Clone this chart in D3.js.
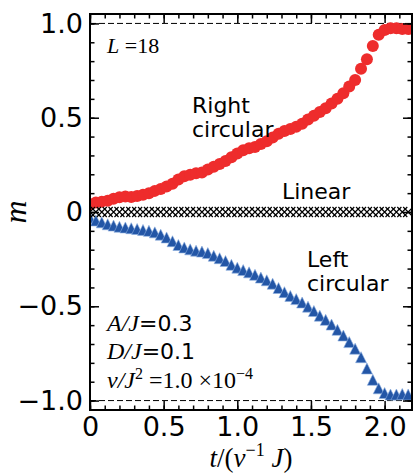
<!DOCTYPE html>
<html>
<head>
<meta charset="utf-8">
<script src="https://cdn.jsdelivr.net/npm/d3@7"></script>
<style>
body { margin: 0; background: #fff; }
.axis path.domain { display: none; }
.axis line { stroke: #000; stroke-width: 1.5; }
.axis text { font-family: "DejaVu Sans"; font-size: 27px; fill: #000; }
.math { font-family: "Liberation Serif"; fill: #000; }
.lbl { font-family: "DejaVu Sans"; font-size: 22px; fill: #000; }
</style>
</head>
<body>
<svg width="414" height="474"></svg>
<script>
// sampled times t/(v^-1 J)
var times = [0, 0.04, 0.08, 0.12, 0.16, 0.20, 0.24, 0.28, 0.32, 0.36, 0.40, 0.44, 0.48, 0.52,
    0.56, 0.60, 0.64, 0.68, 0.72, 0.76, 0.80, 0.84, 0.88, 0.92, 0.96, 1.00, 1.04, 1.08, 1.12,
    1.16, 1.20, 1.24, 1.28, 1.32, 1.36, 1.40, 1.44, 1.48, 1.52, 1.56, 1.60, 1.64, 1.68, 1.72,
    1.76, 1.80, 1.84, 1.88, 1.92, 1.96, 2.00, 2.04, 2.08, 2.12, 2.16];

var rightCircular = [0.04, 0.05, 0.055, 0.06, 0.07, 0.078, 0.082, 0.08, 0.085, 0.092, 0.10, 0.112,
    0.122, 0.135, 0.15, 0.172, 0.19, 0.198, 0.205, 0.21, 0.225, 0.24, 0.255, 0.27, 0.29, 0.31,
    0.328, 0.338, 0.345, 0.36, 0.375, 0.395, 0.415, 0.43, 0.44, 0.452, 0.468, 0.49, 0.51, 0.53,
    0.55, 0.575, 0.60, 0.63, 0.665, 0.70, 0.76, 0.81, 0.88, 0.94, 0.965, 0.975, 0.975, 0.97, 0.97];

var leftCircular = [-0.03, -0.045, -0.055, -0.065, -0.072, -0.078, -0.082, -0.086, -0.09, -0.095,
    -0.10, -0.108, -0.12, -0.135, -0.155, -0.175, -0.188, -0.198, -0.205, -0.21, -0.218, -0.232,
    -0.245, -0.26, -0.28, -0.295, -0.308, -0.32, -0.333, -0.348, -0.362, -0.38, -0.403, -0.425,
    -0.445, -0.462, -0.48, -0.502, -0.525, -0.55, -0.572, -0.597, -0.625, -0.655, -0.69, -0.725,
    -0.77, -0.83, -0.89, -0.935, -0.96, -0.968, -0.968, -0.965, -0.968];

var linear = [0, 0, 0, 0, 0, 0, 0, 0, 0, 0, 0, 0, 0, 0, 0, 0, 0, 0, 0, 0, 0, 0, 0, 0, 0, 0, 0,
    0, 0, 0, 0, 0, 0, 0, 0, 0, 0, 0, 0, 0, 0, 0, 0, 0, 0, 0, 0, 0, 0, 0, 0, 0, 0, 0, 0];

var xTicks = [0, 0.5, 1.0, 1.5, 2.0],
    yTicks = [-1.0, -0.5, 0, 0.5, 1.0];

var svg = d3.select("svg"),
    padL = 90, padR = 412, padT = 14, padB = 410;

var x = d3.scaleLinear().domain([0, 2.186]).range([padL, padR]),
    y = d3.scaleLinear().domain([-1.05, 1.05]).range([padB, padT]);

var xMinor = d3.range(0, 22).map(function (i) { return i / 10; }),
    yMinor = d3.range(-10, 11).map(function (i) { return i / 10; });

var fmt = function (d) { return d === 0 ? "0" : d3.format(".1f")(d); };

svg.append("clipPath").attr("id", "plot")
    .append("rect").attr("x", padL).attr("y", padT)
    .attr("width", padR - padL).attr("height", padB - padT);

// dashed reference lines at +-1
svg.selectAll(".ref").data([1, -1]).enter().append("line")
    .attr("x1", padL).attr("x2", padR)
    .attr("y1", function (d) { return y(d); }).attr("y2", function (d) { return y(d); })
    .attr("stroke", "#000").attr("stroke-width", 1)
    .attr("stroke-dasharray", "6,3");

var g = svg.append("g").attr("clip-path", "url(#plot)");

g.selectAll(".circ").data(times).enter().append("circle")
    .attr("cx", function (d) { return x(d); })
    .attr("cy", function (d, i) { return y(rightCircular[i]); })
    .attr("r", 6)
    .attr("fill", "#ee2c2c");

var tri = { draw: function (c, s) { var h = 5.5; c.moveTo(0, -h); c.lineTo(h, h); c.lineTo(-h, h); c.closePath(); } };
g.selectAll(".tri").data(times).enter().append("path")
    .attr("transform", function (d, i) { return "translate(" + x(d) + "," + y(leftCircular[i]) + ")"; })
    .attr("d", d3.symbol(tri))
    .attr("fill", "#2356a6")
    .attr("stroke", "#8eb0e0").attr("stroke-width", 0.6);

var cross = { draw: function (c, s) { var h = 5; c.moveTo(-h, -h); c.lineTo(h, h); c.moveTo(-h, h); c.lineTo(h, -h); } };
g.selectAll(".crs").data(times).enter().append("path")
    .attr("transform", function (d, i) { return "translate(" + x(d) + "," + y(linear[i]) + ")"; })
    .attr("d", d3.symbol(cross))
    .attr("fill", "none").attr("stroke", "#000").attr("stroke-width", 1.2);

// axes, ticks pointing inward on all four sides
svg.append("g").attr("class", "axis").attr("transform", "translate(0," + padB + ")")
    .call(d3.axisBottom(x).tickValues(xMinor).tickSize(-4.5).tickFormat(""));
svg.append("g").attr("class", "axis").attr("transform", "translate(0," + padB + ")")
    .call(d3.axisBottom(x).tickValues(xTicks).tickSize(-9).tickPadding(7).tickFormat(fmt));
svg.append("g").attr("class", "axis").attr("transform", "translate(0," + padT + ")")
    .call(d3.axisTop(x).tickValues(xMinor).tickSize(-4.5).tickFormat(""));
svg.append("g").attr("class", "axis").attr("transform", "translate(0," + padT + ")")
    .call(d3.axisTop(x).tickValues(xTicks).tickSize(-9).tickFormat(""));

svg.append("g").attr("class", "axis").attr("transform", "translate(" + padL + ",0)")
    .call(d3.axisLeft(y).tickValues(yMinor).tickSize(-4.5).tickFormat(""));
svg.append("g").attr("class", "axis").attr("transform", "translate(" + padL + ",0)")
    .call(d3.axisLeft(y).tickValues(yTicks).tickSize(-9).tickPadding(7).tickFormat(fmt));
svg.append("g").attr("class", "axis").attr("transform", "translate(" + padR + ",0)")
    .call(d3.axisRight(y).tickValues(yMinor).tickSize(-4.5).tickFormat(""));
svg.append("g").attr("class", "axis").attr("transform", "translate(" + padR + ",0)")
    .call(d3.axisRight(y).tickValues(yTicks).tickSize(-9).tickFormat(""));

svg.append("rect").attr("x", padL).attr("y", padT)
    .attr("width", padR - padL).attr("height", padB - padT)
    .attr("fill", "none").attr("stroke", "#000").attr("stroke-width", 2);

// axis labels
svg.append("text").attr("class", "math")
    .attr("transform", "translate(26," + y(0) + ") rotate(-90)")
    .attr("text-anchor", "middle")
    .style("font-size", "32px").style("font-style", "italic")
    .text("m");

var xl = svg.append("text").attr("class", "math")
    .attr("x", 251).attr("y", 467).attr("text-anchor", "middle")
    .style("font-size", "27px");
xl.append("tspan").style("font-style", "italic").text("t");
xl.append("tspan").text("/(");
xl.append("tspan").style("font-style", "italic").text("v");
xl.append("tspan").attr("dy", -11).style("font-size", "18px").text("\u22121");
xl.append("tspan").attr("dy", 11).style("font-style", "italic").text(" J");
xl.append("tspan").text(")");

// annotations
var lt = svg.append("text").attr("class", "math").attr("x", 107).attr("y", 53).style("font-size", "22px");
lt.append("tspan").style("font-style", "italic").text("L");
lt.append("tspan").text(" =18");

svg.append("text").attr("class", "lbl").attr("x", 192).attr("y", 113).text("Right");
svg.append("text").attr("class", "lbl").attr("x", 192).attr("y", 137).text("circular");
svg.append("text").attr("class", "lbl").attr("x", 282).attr("y", 199).text("Linear");
svg.append("text").attr("class", "lbl").attr("x", 307).attr("y", 267).text("Left");
svg.append("text").attr("class", "lbl").attr("x", 307).attr("y", 291).text("circular");

var params = [["A/J", "=0.3", 331], ["D/J", "=0.1", 359]];
params.forEach(function (p) {
    var t = svg.append("text").attr("x", 107).attr("y", p[2]);
    t.append("tspan").attr("class", "math").style("font-style", "italic").style("font-size", "24px").text(p[0]);
    t.append("tspan").attr("class", "lbl").text(p[1]);
});

var vt = svg.append("text").attr("class", "math").attr("x", 107).attr("y", 388).style("font-size", "24px");
vt.append("tspan").style("font-style", "italic").text("v/J");
vt.append("tspan").attr("dy", -9).style("font-size", "16px").text("2");
vt.append("tspan").attr("dy", 9).text(" =1.0 \u00d710");
vt.append("tspan").attr("dy", -9).style("font-size", "16px").text("\u22124");
</script>
</body>
</html>
